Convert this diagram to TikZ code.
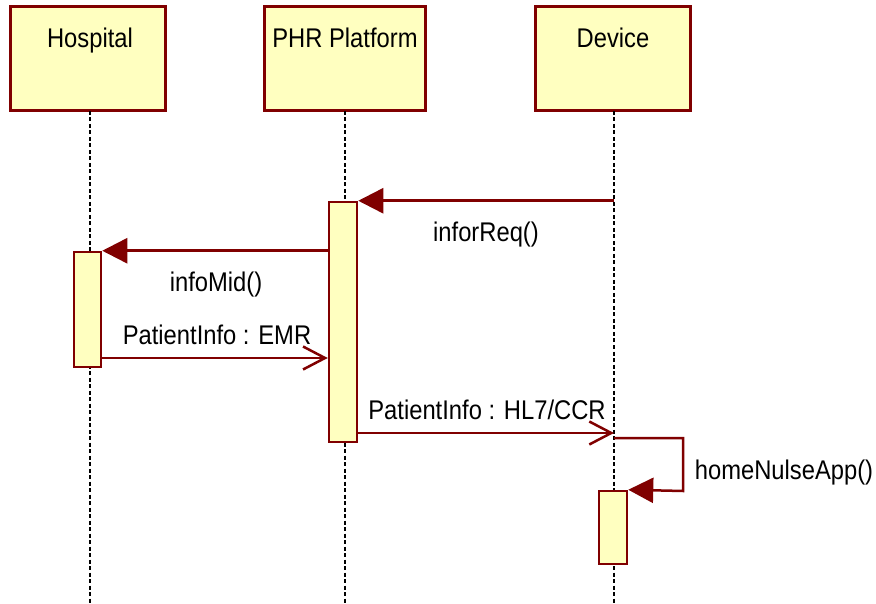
\documentclass[tikz,border=0pt]{standalone}
\usepackage{fontspec}
\setmainfont[FakeStretch=0.88]{Liberation Sans}
\usetikzlibrary{arrows.meta}
\definecolor{umlred}{RGB}{128,0,0}
\definecolor{umlfill}{RGB}{255,255,192}

\begin{document}
\begin{tikzpicture}[x=1pt,y=-1pt,
  lbl/.style={font=\fontsize{27}{32}\selectfont, inner sep=0pt, text=black},
  actor/.style={draw=umlred, fill=umlfill, line width=3pt, minimum height=104pt, inner sep=0pt},
  activation/.style={draw=umlred, fill=umlfill, line width=2.5pt, minimum width=28pt, inner sep=0pt},
  lifeline/.style={draw=black, line width=2pt, dash pattern=on 4pt off 2.5pt},
  msg/.style={draw=umlred, line width=2.5pt},
  call/.style={msg, -{Triangle[length=25pt, width=25pt, fill=umlred]}},
  reply/.style={msg, -{Straight Barb[length=22pt, width=23pt, line width=2.5pt]}}
]
\useasboundingbox (0,0) rectangle (876,604);

% participant heads
\node[actor, minimum width=155pt] (hosp) at (87.5,59) {};
\node[actor, minimum width=161pt] (phr)  at (344.5,59) {};
\node[actor, minimum width=155pt] (dev)  at (612.5,59) {};
\node[lbl, anchor=base] (hospT) at (90,48) {Hospital};
\node[lbl, anchor=base] (phrT)  at (345,48) {PHR Platform};
\node[lbl, anchor=base] (devT)  at (613,48) {Device};

% lifeline ends
\coordinate (hospEnd) at (90,604);
\coordinate (phrEnd)  at (345,604);
\coordinate (devEnd)  at (614,604);
\coordinate (hospTop) at (90,111);
\coordinate (phrTop)  at (345,111);
\coordinate (devTop)  at (614,111);

\draw[lifeline] (hospTop) -- (hospEnd);
\draw[lifeline] (phrTop) -- (phrEnd);
\draw[lifeline] (devTop) -- (devEnd);

% activation bars
\node[activation, minimum width=27pt, minimum height=115pt] (hospAct) at (87.5,309.5) {};
\node[activation, minimum height=240pt] (phrAct) at (343,322) {};
\node[activation, minimum height=73pt] (devAct) at (613,527.5) {};

% messages
\draw[call] (devTop |- phrAct.north) -- (phrAct.north east);
\node[lbl, anchor=base] (reqL) at (486,242) {inforReq()};

\draw[call] (phrAct.west |- hospAct.north) -- (hospAct.north east);
\node[lbl, anchor=base] (midL) at (216,292) {infoMid()};

\coordinate (emrY) at (0,358);
\draw[reply] (hospAct.east |- emrY) -- (phrAct.west |- emrY);
\node[lbl, anchor=base] (emrL) at (217,344) {PatientInfo : EMR};

\coordinate (hlY) at (0,433);
\draw[reply] (phrAct.east |- hlY) -- (devTop |- hlY);
\node[lbl, anchor=base] (hlL) at (487,419) {PatientInfo : HL7/CCR};

\coordinate (selfA) at (614,438);
\coordinate (selfB) at (683,438);
\coordinate (selfC) at (683,491);
\draw[call] (selfA) -- (selfB) -- (selfC) -- (devAct.north east);
\node[lbl, anchor=base] (selfL) at (784,479) {homeNulseApp()};
\end{tikzpicture}
\end{document}
